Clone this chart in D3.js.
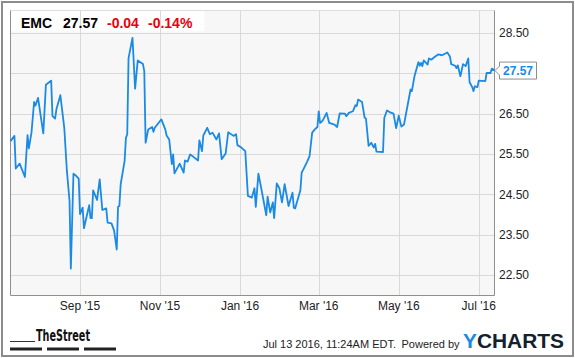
<!DOCTYPE html>
<html>
<head>
<meta charset="utf-8">
<script src="https://cdn.jsdelivr.net/npm/d3@7"></script>
<style>
  html, body { margin: 0; padding: 0; background: #fff; }
  svg { display: block; font-family: "Liberation Sans", Arial, sans-serif; }
</style>
</head>
<body>
<svg id="chart" width="575" height="358"></svg>
<script>
// EMC daily close
const dates = [
  "2015-07-10","2015-07-13","2015-07-14","2015-07-17","2015-07-21","2015-07-23","2015-07-24","2015-07-26","2015-07-28","2015-07-29","2015-07-31",
  "2015-08-04","2015-08-06","2015-08-10","2015-08-11","2015-08-13","2015-08-14","2015-08-17","2015-08-20","2015-08-22","2015-08-24","2015-08-25","2015-08-27","2015-08-29","2015-08-31",
  "2015-09-01","2015-09-03","2015-09-04","2015-09-08","2015-09-09","2015-09-10","2015-09-11","2015-09-14","2015-09-16","2015-09-18","2015-09-21","2015-09-22","2015-09-25","2015-09-27","2015-09-29","2015-09-30",
  "2015-10-01","2015-10-02","2015-10-05","2015-10-06","2015-10-07","2015-10-08","2015-10-11","2015-10-13","2015-10-15","2015-10-19","2015-10-20","2015-10-21","2015-10-23","2015-10-26","2015-10-27","2015-10-28",
  "2015-11-01","2015-11-02","2015-11-05","2015-11-06","2015-11-08","2015-11-10","2015-11-11","2015-11-12","2015-11-16","2015-11-19","2015-11-20","2015-11-22","2015-11-24","2015-11-30",
  "2015-12-01","2015-12-03","2015-12-04","2015-12-07","2015-12-09","2015-12-11","2015-12-14","2015-12-16","2015-12-18","2015-12-21","2015-12-23","2015-12-27","2015-12-29","2015-12-30",
  "2016-01-02","2016-01-05","2016-01-07","2016-01-10","2016-01-12","2016-01-13","2016-01-15","2016-01-17","2016-01-21","2016-01-22","2016-01-24","2016-01-26","2016-01-27","2016-01-29","2016-01-31",
  "2016-02-02","2016-02-04","2016-02-07","2016-02-10","2016-02-11","2016-02-12","2016-02-16","2016-02-17","2016-02-18","2016-02-21","2016-02-23","2016-02-25","2016-02-27","2016-02-29",
  "2016-03-01","2016-03-02","2016-03-04","2016-03-07","2016-03-09","2016-03-13","2016-03-15","2016-03-17","2016-03-21","2016-03-22","2016-03-24","2016-03-27","2016-03-29","2016-03-30","2016-03-31",
  "2016-04-03","2016-04-05","2016-04-06","2016-04-08","2016-04-10","2016-04-12","2016-04-13","2016-04-14","2016-04-19","2016-04-20","2016-04-22","2016-04-24","2016-04-27","2016-04-29",
  "2016-05-01","2016-05-03","2016-05-05","2016-05-07","2016-05-10","2016-05-11","2016-05-13","2016-05-16","2016-05-17","2016-05-18","2016-05-19","2016-05-20","2016-05-23","2016-05-24","2016-05-26","2016-05-28","2016-05-31",
  "2016-06-03","2016-06-07","2016-06-09","2016-06-10","2016-06-13","2016-06-14","2016-06-15","2016-06-17","2016-06-19","2016-06-21","2016-06-23","2016-06-24","2016-06-26","2016-06-27","2016-06-28","2016-06-30",
  "2016-07-01","2016-07-06","2016-07-07","2016-07-10","2016-07-11","2016-07-13"
];
const closes = [
  25.82,25.95,25.14,25.26,24.93,25.97,25.64,26.03,26.79,26.70,26.89,
  26.01,27.22,27.32,26.44,26.38,26.61,26.96,26.15,25.08,24.34,22.66,25.01,24.96,24.89,
  24.01,24.17,23.66,24.23,23.91,23.91,24.60,24.36,24.87,24.11,24.15,23.80,23.78,23.60,23.13,24.19,
  24.21,24.75,25.33,25.90,25.99,27.88,28.38,27.12,27.82,27.73,27.55,25.78,26.11,26.17,26.05,26.15,
  26.32,26.36,26.11,25.96,25.86,25.25,25.49,25.02,25.26,25.04,25.34,25.31,25.49,25.34,
  25.84,25.57,25.96,26.15,25.99,26.03,25.86,26.01,25.37,25.51,26.04,25.95,25.99,25.72,
  25.66,25.57,24.46,24.42,24.65,24.19,25.01,24.68,23.98,24.44,24.05,24.30,23.91,24.77,24.65,
  24.30,24.75,24.21,24.54,24.17,24.15,24.60,25.04,25.10,25.30,25.45,26.03,26.11,26.17,
  26.56,26.27,26.33,26.52,26.27,26.23,26.17,26.51,26.50,26.44,26.52,26.56,26.71,26.69,26.85,
  26.79,26.40,26.38,25.70,25.78,25.66,25.75,25.56,25.55,26.40,26.58,26.54,26.50,26.14,
  26.45,26.18,26.23,26.58,27.10,27.06,27.43,27.78,27.69,27.76,27.68,27.82,27.72,27.87,27.84,27.90,27.97,
  27.95,28.02,27.92,27.73,27.69,27.63,27.70,27.43,27.73,27.68,27.87,27.28,27.16,27.06,27.18,27.16,
  27.32,27.31,27.51,27.51,27.62,27.57
];
const yTicks = [22.5, 23.5, 24.5, 25.5, 26.5, 27.5, 28.5];
const xTicks = ["2015-09-01","2015-11-01","2016-01-01","2016-03-01","2016-05-01","2016-07-01"];
const ticker = "EMC";
const lastPrice = "27.57";
const change = "-0.04";
const changePct = "-0.14%";
const stamp = "Jul 13 2016, 11:24AM EDT.";

const parse = d3.utcParse("%Y-%m-%d");
const series = dates.map((d, i) => ({ date: parse(d), close: closes[i] }));

const svg = d3.select("#chart");
const plotLeft = 10.5, plotRight = 494.5, plotTop = 10.5, plotBottom = 295.5;

var x = d3.scaleUtc()
  .domain([parse("2015-07-10"), parse("2016-07-13")])
  .range([plotLeft, plotRight]);
var y = d3.scaleLinear()
  .domain([21.99, 29.06])
  .range([plotBottom, plotTop]);

// outer frame
svg.append("rect")
  .attr("x", 2).attr("y", 2).attr("width", 571).attr("height", 354)
  .attr("fill", "#fff").attr("stroke", "#8c8c8c").attr("stroke-width", 2);

// plot background
svg.append("rect")
  .attr("x", plotLeft).attr("y", plotTop).attr("width", plotRight - plotLeft).attr("height", plotBottom - plotTop)
  .attr("fill", "#f7f7f7");

// header strip
svg.append("rect")
  .attr("x", plotLeft).attr("y", plotTop).attr("width", 194).attr("height", 21)
  .attr("fill", "#fff").attr("opacity", 0.85);

// grid
svg.append("g")
  .selectAll("line")
  .data(yTicks)
  .join("line")
  .attr("x1", plotLeft).attr("x2", plotRight)
  .attr("y1", d => Math.round(y(d)) + 0.5).attr("y2", d => Math.round(y(d)) + 0.5)
  .attr("stroke", "#d9d9d9");

svg.append("g")
  .selectAll("line")
  .data(xTicks)
  .join("line")
  .attr("x1", d => Math.round(x(parse(d))) + 0.5).attr("x2", d => Math.round(x(parse(d))) + 0.5)
  .attr("y1", plotTop).attr("y2", plotBottom)
  .attr("stroke", "#d9d9d9");

// plot border
svg.append("line").attr("x1", plotLeft).attr("x2", plotRight).attr("y1", plotTop).attr("y2", plotTop).attr("stroke", "#dedede");
svg.append("path")
  .attr("d", `M${plotLeft},${plotTop}V${plotBottom}H${plotRight}V${plotTop}`)
  .attr("fill", "none").attr("stroke", "#8f8f8f");

// price line
const line = d3.line()
  .x(d => x(d.date))
  .y(d => y(d.close));

svg.append("path")
  .datum(series)
  .attr("fill", "none")
  .attr("stroke", "#1a8ae5")
  .attr("stroke-width", 1.8)
  .attr("stroke-linejoin", "round")
  .attr("d", line);

// last price badge position; the tick label it covers is not drawn
const last = series[series.length - 1];
const ly = y(last.close);

svg.append("g")
  .selectAll("text")
  .data(yTicks.filter(d => Math.abs(y(d) - ly) > 12))
  .join("text")
  .attr("x", 499)
  .attr("y", d => y(d))
  .attr("dy", "0.36em")
  .attr("font-size", 12)
  .attr("fill", "#222")
  .text(d => d3.format(".2f")(d));

svg.append("g")
  .selectAll("text")
  .data(xTicks)
  .join("text")
  .attr("x", d => x(parse(d)))
  .attr("y", 310)
  .attr("text-anchor", "middle")
  .attr("font-size", 12)
  .attr("fill", "#222")
  .text(d => d3.utcFormat("%b '%y")(parse(d)));

svg.append("path")
  .attr("d", `M${plotRight + 0.5},${ly} L499.5,${ly - 4.5} V${ly - 8.5} H536.5 V${ly + 8.5} H499.5 V${ly + 4.5} Z`)
  .attr("fill", "#fff").attr("stroke", "#8c8c8c");
svg.append("text")
  .attr("x", 518).attr("y", ly).attr("dy", "0.36em")
  .attr("text-anchor", "middle")
  .attr("font-size", 12).attr("font-weight", "bold")
  .attr("fill", "#1a8ae5")
  .text(lastPrice);

// header text
const head = svg.append("text")
  .attr("x", 21).attr("y", 28)
  .attr("font-size", 14).attr("font-weight", "bold");
head.append("tspan").attr("fill", "#000").text(ticker);
head.append("tspan").attr("x", 63).attr("fill", "#000").text(lastPrice);
head.append("tspan").attr("x", 107).attr("fill", "#e8000b").text(change);
head.append("tspan").attr("x", 148).attr("fill", "#e8000b").text(changePct);

// footer: TheStreet
svg.append("text")
  .attr("x", 36).attr("y", 341)
  .attr("font-family", "'Liberation Sans Narrow', 'DejaVu Sans Condensed', sans-serif")
  .attr("font-size", 15).attr("font-weight", "bold")
  .attr("textLength", 54).attr("lengthAdjust", "spacingAndGlyphs")
  .attr("fill", "#111")
  .text("TheStreet");
svg.append("line").attr("x1", 10).attr("x2", 35).attr("y1", 341.5).attr("y2", 341.5).attr("stroke", "#333");
svg.append("g")
  .selectAll("rect")
  .data([[10, 42], [47, 79], [84, 116]])
  .join("rect")
  .attr("x", d => d[0]).attr("width", d => d[1] - d[0])
  .attr("y", 347.5).attr("height", 3)
  .attr("fill", "#222");

// footer: timestamp and ycharts
svg.append("text")
  .attr("x", 396).attr("y", 348)
  .attr("text-anchor", "end")
  .attr("font-size", 11).attr("fill", "#222")
  .text(stamp);
svg.append("text")
  .attr("x", 401.5).attr("y", 348)
  .attr("font-size", 11).attr("fill", "#222")
  .text("Powered by");
const yc = svg.append("text")
  .attr("x", 463).attr("y", 348)
  .attr("font-size", 19.5).attr("font-weight", "bold")
  .attr("textLength", 101).attr("lengthAdjust", "spacingAndGlyphs");
yc.append("tspan").attr("fill", "#1a8ae5").text("Y");
yc.append("tspan").attr("fill", "#13202e").text("CHARTS");
</script>
</body>
</html>
